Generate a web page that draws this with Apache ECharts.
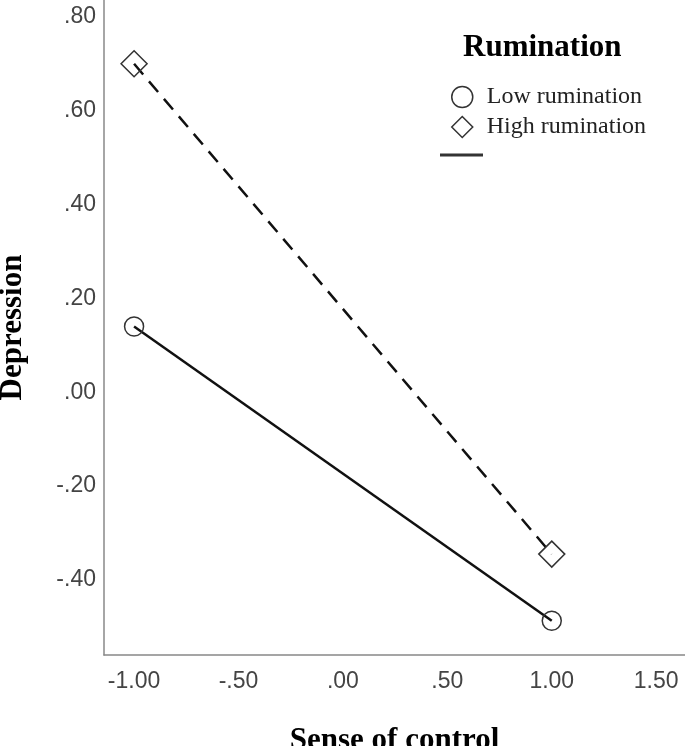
<!DOCTYPE html>
<html>
<head>
<meta charset="utf-8">
<title>Depression by sense of control</title>
<script src="https://cdn.jsdelivr.net/npm/echarts@6/dist/echarts.min.js"></script>
<style>
	* { margin: 0; padding: 0; }
	html, body { width: 100%; height: 100%; background: #fff; }
	#main { width: 685px; height: 746px; }
</style>
</head>
<body>
<div id="main"></div>
<script type="text/javascript">
	// data
	var controlLevels = [-1, 1];
	var lowRumination = [0.14, -0.487];
	var highRumination = [0.70, -0.345];
	var xTicks = [-1, -0.5, 0, 0.5, 1, 1.5];
	var yTicks = [-0.4, -0.2, 0, 0.2, 0.4, 0.6, 0.8];
	var groupNames = ['Low rumination', 'High rumination'];

	function toPairs(xs, ys) {
		var out = [];
		for (var i = 0; i < xs.length; i++) out.push([xs[i], ys[i]]);
		return out;
	}
	// SPSS style: drop the leading zero
	function spssFmt(v) {
		return v.toFixed(2).replace(/^(-?)0\./, '$1.');
	}

	var myChart = echarts.init(document.getElementById('main'));

	var tickFont = {
		fontFamily: 'Liberation Sans',
		fontSize: 23,
		color: '#444'
	};
	var boldSerif = {
		fontFamily: 'Liberation Serif',
		fontWeight: 'bold',
		fontSize: 31,
		color: '#000'
	};
	var markerStyle = {
		color: 'rgba(0,0,0,0)',
		borderColor: '#333',
		borderWidth: 1.5
	};

	var option = {
		animation: false,
		title: {
			text: 'Rumination',
			left: 463,
			top: 32,
			padding: 0,
			textStyle: boldSerif
		},
		legend: {
			orient: 'vertical',
			left: 451,
			top: 85,
			padding: 0,
			itemWidth: 21,
			itemHeight: 21,
			itemGap: 6,
			data: [
				{ name: groupNames[0], icon: 'circle' },
				{ name: groupNames[1], icon: 'diamond' }
			],
			itemStyle: {
				color: 'rgba(0,0,0,0)',
				borderColor: '#333',
				borderWidth: 1.5
			},
			textStyle: {
				fontFamily: 'Liberation Serif',
				fontSize: 24,
				color: '#222',
				padding: [0, 0, 0, 9]
			}
		},
		grid: {
			left: 104,
			right: 0,
			top: 0,
			bottom: 91,
			outerBoundsMode: 'none',
			containLabel: false
		},
		xAxis: {
			type: 'value',
			min: -1.144,
			max: 1.638,
			name: 'Sense of control',
			nameLocation: 'middle',
			nameGap: 70,
			nameTextStyle: boldSerif,
			splitLine: { show: false },
			axisTick: { show: false },
			axisLine: { show: true, onZero: false, lineStyle: { color: '#888', width: 1.5 } },
			axisLabel: {
				customValues: xTicks,
				formatter: spssFmt,
				margin: 15,
				fontFamily: tickFont.fontFamily,
				fontSize: tickFont.fontSize,
				color: tickFont.color
			}
		},
		yAxis: {
			type: 'value',
			min: -0.56,
			max: 0.836,
			name: 'Depression',
			nameLocation: 'middle',
			nameRotate: 90,
			nameGap: 76,
			nameTextStyle: boldSerif,
			splitLine: { show: false },
			axisTick: { show: false },
			axisLine: { show: true, onZero: false, lineStyle: { color: '#888', width: 1.5 } },
			axisLabel: {
				customValues: yTicks,
				formatter: spssFmt,
				margin: 8,
				fontFamily: tickFont.fontFamily,
				fontSize: tickFont.fontSize,
				color: tickFont.color
			}
		},
		graphic: [{
			type: 'line',
			shape: { x1: 440, y1: 155, x2: 483, y2: 155 },
			style: { stroke: '#333', lineWidth: 3 }
		}],
		series: [{
			name: groupNames[0],
			type: 'line',
			data: toPairs(controlLevels, lowRumination),
			symbol: 'circle',
			symbolSize: 19,
			z: 3,
			lineStyle: { color: '#111', width: 2.5, type: 'solid' },
			itemStyle: markerStyle
		}, {
			name: groupNames[1],
			type: 'line',
			data: toPairs(controlLevels, highRumination),
			symbol: 'diamond',
			symbolSize: 26,
			z: 3,
			lineStyle: { color: '#111', width: 2.5, type: [14, 9] },
			itemStyle: markerStyle
		}]
	};

	myChart.setOption(option);
</script>
</body>
</html>
